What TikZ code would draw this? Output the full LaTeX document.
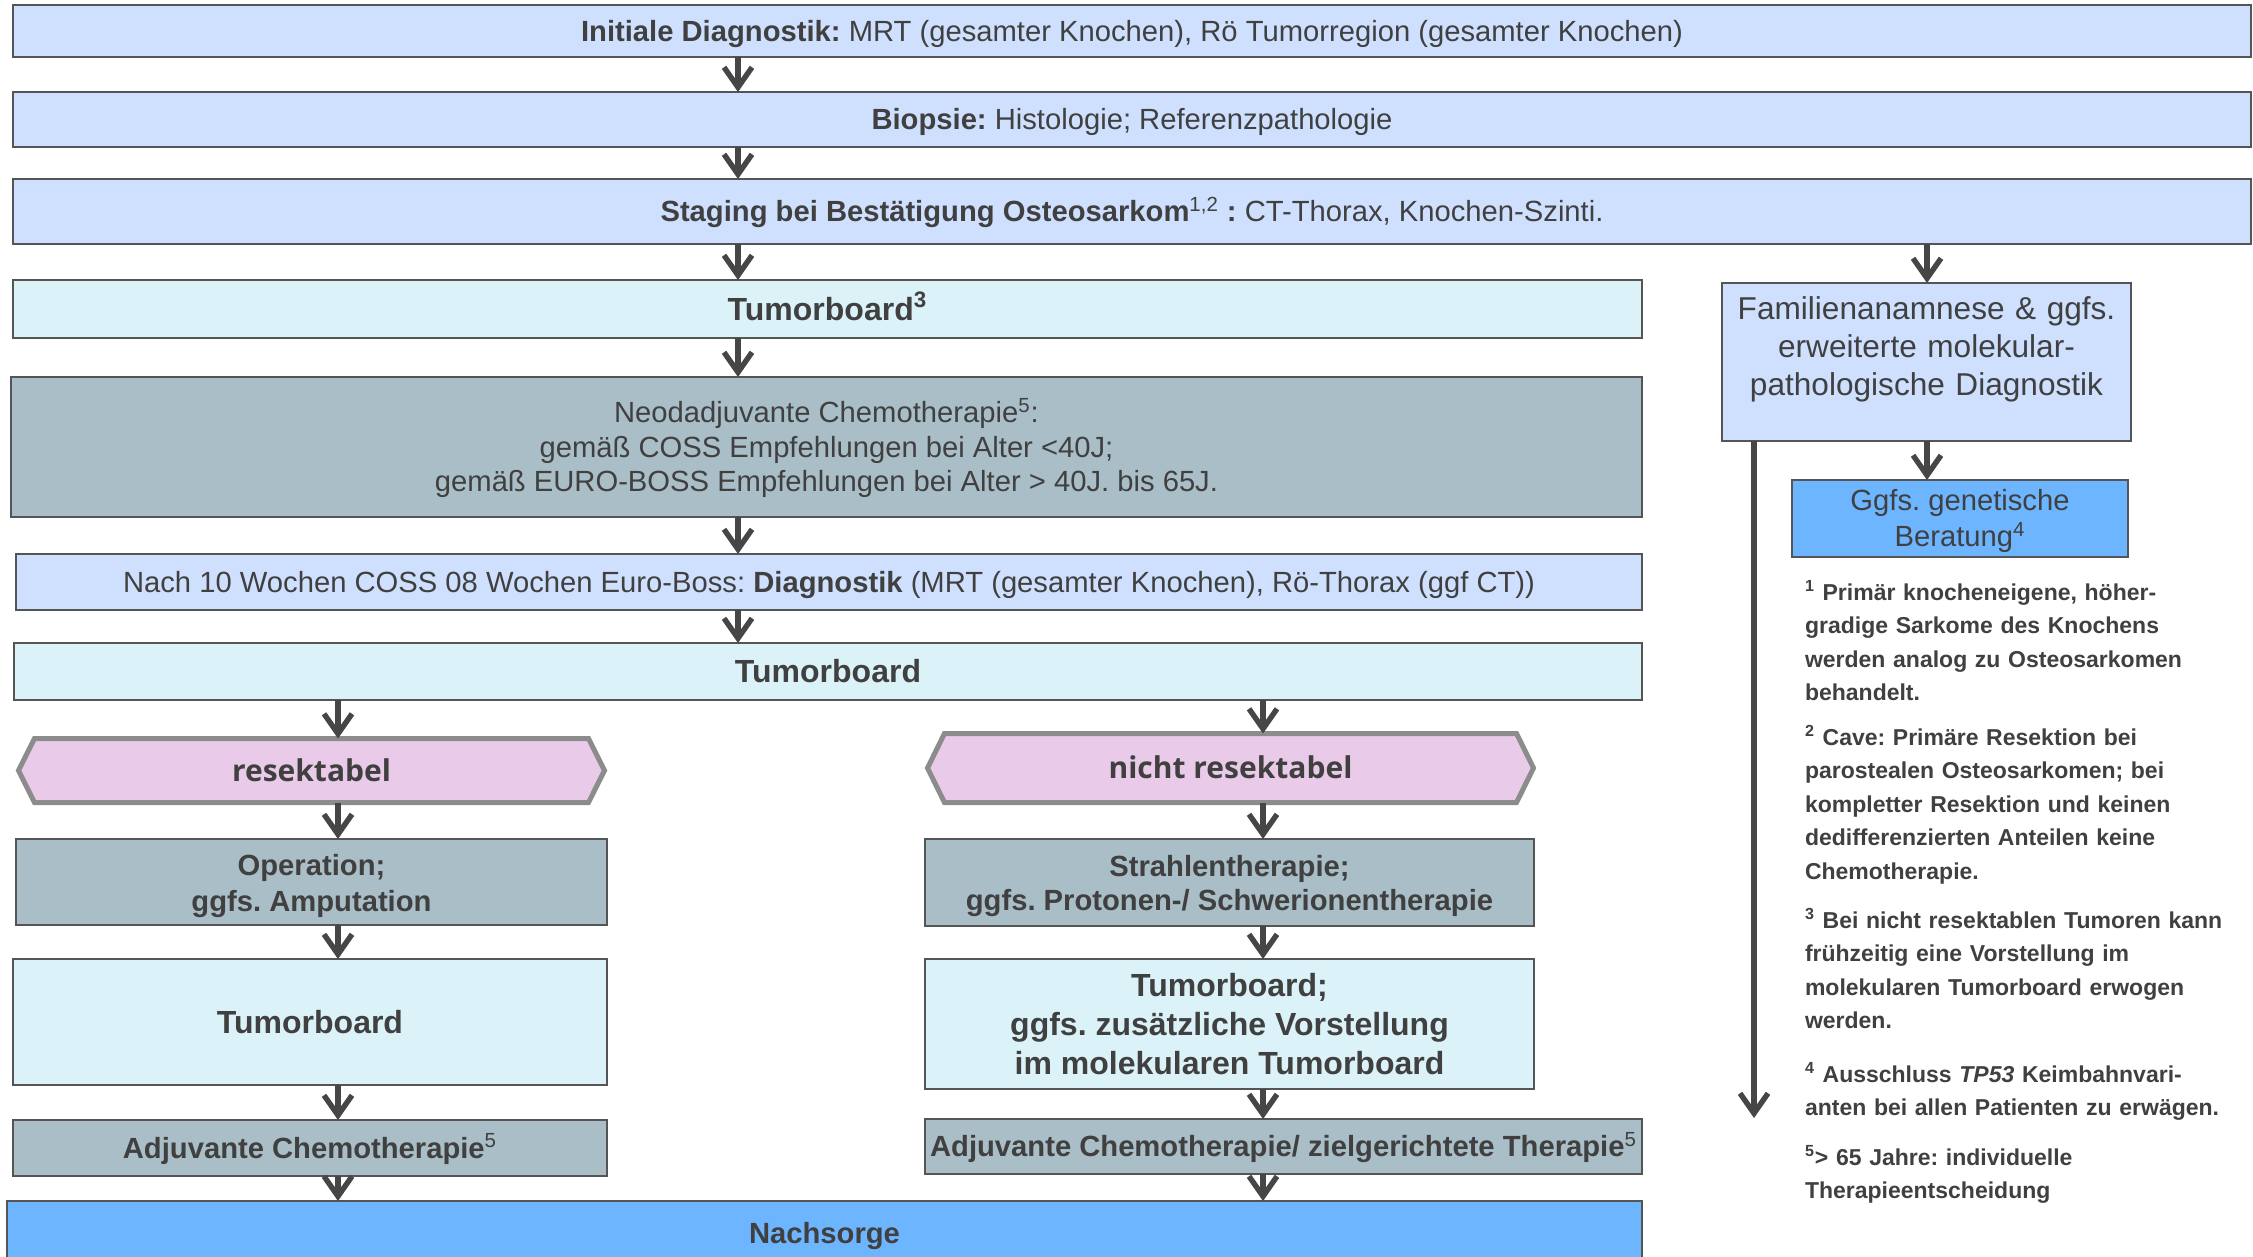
\documentclass[tikz,border=0pt]{standalone}
\usepackage{fontspec}
\setmainfont{Liberation Sans}
\newfontfamily\hexfont{Open Sans}
\usetikzlibrary{arrows.meta,shapes.symbols}

\definecolor{txt}{RGB}{64,64,64}
\definecolor{lblue}{RGB}{207,224,255}
\definecolor{lcyan}{RGB}{219,243,248}
\definecolor{gblue}{RGB}{169,190,199}
\definecolor{pinkc}{RGB}{233,202,232}
\definecolor{bblue}{RGB}{110,181,255}
\definecolor{bord}{RGB}{85,85,85}
\definecolor{hexb}{RGB}{140,140,140}
\definecolor{arrc}{RGB}{70,70,70}

\newcommand\fsmain{\fontsize{14.6pt}{17.5pt}\selectfont}
\newcommand\fsbig{\fontsize{16pt}{19.4pt}\selectfont}
\newcommand\fsfam{\fontsize{15.8pt}{18.8pt}\selectfont}
\newcommand\fsnote{\fontsize{11.5pt}{16.8pt}\selectfont}
\newcommand\fshex{\fontsize{15pt}{18pt}\selectfont}
\newcommand\mystrut{\rule[-0.21em]{0pt}{1.12em}}
\newcommand\mlines[2][2pt]{\raisebox{-#1}[\height][\depth]{\begin{tabular}{@{}c@{}}#2\end{tabular}}}
\frenchspacing

\begin{document}
\begin{tikzpicture}[x=0.5pt,y=-0.5pt,
  every node/.style={text=txt, inner sep=0pt, outer sep=0pt},
  box/.style={draw=bord, line width=1.1pt, rectangle, align=center,
     execute at begin node=\mystrut, execute at end node=\mystrut},
  hexa/.style={draw=hexb, line width=2.5pt, fill=pinkc, shape=signal,
     signal to=west and east, align=center, font=\fshex\hexfont\bfseries,
     execute at begin node=\mystrut},
  arr/.style={draw=arrc, line width=2.7pt, -{Straight Barb[length=10pt,width=14pt]}},
  note/.style={font=\fsnote\bfseries, align=left, text width=230pt, anchor=base west}]
\useasboundingbox (0,0) rectangle (2253,1257);
\clip (0,0) rectangle (2253,1257);

% column coordinates
\coordinate (cM) at (738,0);
\coordinate (cL) at (338,0);
\coordinate (cR) at (1263,0);
\coordinate (cF) at (1927,0);
\coordinate (cV) at (1754,0);
\coordinate (vEnd) at (1754,1118);

% main column
\node[box, fill=lblue, minimum width=1119pt, minimum height=26pt, font=\fsmain] (init) at (1132,31)
  {\textbf{Initiale Diagnostik:} MRT (gesamter Knochen), Rö Tumorregion (gesamter Knochen)};
\node[box, fill=lblue, minimum width=1119pt, minimum height=27.5pt, font=\fsmain] (bio) at (1132,119.5)
  {\textbf{Biopsie:} Histologie; Referenzpathologie};
\node[box, fill=lblue, minimum width=1119pt, minimum height=32.5pt, font=\fsmain] (stag) at (1132,211.5)
  {\textbf{Staging bei Bestätigung Osteosarkom\textsuperscript{\mdseries 1,2} :} CT-Thorax, Knochen-Szinti.};
\node[box, fill=lcyan, minimum width=814.5pt, minimum height=29pt, font=\fsbig\bfseries] (tb1) at (827.5,309)
  {Tumorboard\textsuperscript{3}};
\node[box, fill=gblue, minimum width=815.5pt, minimum height=70pt, font=\fontsize{14.6pt}{17.25pt}\selectfont] (neo) at (826.5,447)
  {\mlines[1.5pt]{Neodadjuvante Chemotherapie\textsuperscript{5}:\\gemäß COSS Empfehlungen bei Alter <40J;\\gemäß EURO-BOSS Empfehlungen bei Alter > 40J. bis 65J.}};
\node[box, fill=lblue, minimum width=813pt, minimum height=28pt, font=\fsmain] (nach) at (829,582)
  {Nach 10 Wochen COSS 08 Wochen Euro-Boss: \textbf{Diagnostik} (MRT (gesamter Knochen), Rö-Thorax (ggf CT))};
\node[box, fill=lcyan, minimum width=814pt, minimum height=28.5pt, font=\fsbig\bfseries] (tb2) at (828,671.5)
  {Tumorboard};

% left branch
\node[hexa, minimum width=293pt, minimum height=32pt, signal pointer angle=127] (hexL) at (311.5,770.5) {resektabel};
\node[box, fill=gblue, minimum width=295.5pt, minimum height=43pt, font=\fontsize{14.6pt}{18pt}\selectfont\bfseries] (op) at (311.5,882)
  {\mlines{Operation;\\ggfs. Amputation}};
\node[box, fill=lcyan, minimum width=297pt, minimum height=63pt, font=\fsbig\bfseries] (tbL) at (310,1022)
  {Tumorboard};
\node[box, fill=gblue, minimum width=297pt, minimum height=28pt, font=\fsmain\bfseries] (adjL) at (310,1148)
  {Adjuvante Chemotherapie\textsuperscript{\mdseries 5}};

% right branch
\node[hexa, minimum width=303pt, minimum height=34.5pt, signal pointer angle=127.6] (hexR) at (1230.5,768) {nicht resektabel};
\node[box, fill=gblue, minimum width=304.5pt, minimum height=43.5pt, font=\fontsize{14.6pt}{17.3pt}\selectfont\bfseries] (str) at (1229.5,882.5)
  {\mlines{Strahlentherapie;\\ggfs. Protonen-/ Schwerionentherapie}};
\node[box, fill=lcyan, minimum width=304.5pt, minimum height=65pt, font=\fsbig\bfseries] (tbR) at (1229.5,1024)
  {\mlines{Tumorboard;\\ggfs. zusätzliche Vorstellung\\im molekularen Tumorboard}};
\node[box, fill=gblue, minimum width=358.5pt, minimum height=27.5pt, font=\fsmain\bfseries] (adjR) at (1283.5,1146.5)
  {Adjuvante Chemotherapie/ zielgerichtete Therapie\textsuperscript{\mdseries 5}};

\node[box, fill=bblue, minimum width=817.5pt, minimum height=32pt, font=\fsmain\bfseries] (nachs) at (824.5,1233)
  {Nachsorge};

% right side
\node[draw=bord, line width=1.1pt, fill=lblue, minimum width=204.5pt, minimum height=79pt] (fam) at (1926.5,362) {};
\node[font=\fsfam, align=center, text width=200pt, anchor=base] (famtext) at (1926.5,320)
  {Familienanamnese \& ggfs.\\erweiterte molekular-\\pathologische Diagnostik};
\node[box, fill=bblue, minimum width=168pt, minimum height=38.5pt, font=\fontsize{14.6pt}{18pt}\selectfont] (gen) at (1960,518.5)
  {\mlines[1.5pt]{Ggfs. genetische\\Beratung\textsuperscript{4}}};

% footnotes
\node[note] (fn1) at (1805,600)
  {\textsuperscript{1} Primär knocheneigene, höher-\\gradige Sarkome des Knochens\\werden analog zu Osteosarkomen\\behandelt.};
\node[note] (fn2) at (1805,745)
  {\textsuperscript{2} Cave: Primäre Resektion bei\\parostealen Osteosarkomen; bei\\kompletter Resektion und keinen\\dedifferenzierten Anteilen keine\\Chemotherapie.};
\node[note] (fn3) at (1805,928)
  {\textsuperscript{3} Bei nicht resektablen Tumoren kann\\frühzeitig eine Vorstellung im\\molekularen Tumorboard erwogen\\werden.};
\node[note] (fn4) at (1805,1082)
  {\textsuperscript{4} Ausschluss \textit{TP53} Keimbahnvari-\\anten bei allen Patienten zu erwägen.};
\node[note] (fn5) at (1805,1165)
  {\textsuperscript{5}> 65 Jahre: individuelle\\Therapieentscheidung};

% connectors
\draw[arr] (init.south -| cM) -- (bio.north -| cM);
\draw[arr] (bio.south -| cM) -- (stag.north -| cM);
\draw[arr] (stag.south -| cM) -- (tb1.north -| cM);
\draw[arr] (stag.south -| cF) -- (fam.north -| cF);
\draw[arr] (tb1.south -| cM) -- (neo.north -| cM);
\draw[arr] (neo.south -| cM) -- (nach.north -| cM);
\draw[arr] (nach.south -| cM) -- (tb2.north -| cM);
\draw[arr] (tb2.south -| cL) -- (hexL.north -| cL);
\draw[arr] (tb2.south -| cR) -- (hexR.north -| cR);
\draw[arr] (hexL.south -| cL) -- (op.north -| cL);
\draw[arr] (op.south -| cL) -- (tbL.north -| cL);
\draw[arr] (tbL.south -| cL) -- (adjL.north -| cL);
\draw[arr] (adjL.south -| cL) -- (nachs.north -| cL);
\draw[arr] (hexR.south -| cR) -- (str.north -| cR);
\draw[arr] (str.south -| cR) -- (tbR.north -| cR);
\draw[arr] (tbR.south -| cR) -- (adjR.north -| cR);
\draw[arr] (adjR.south -| cR) -- (nachs.north -| cR);
\draw[arr] (fam.south -| cF) -- (gen.north -| cF);
\draw[arr] (fam.south -| cV) -- (vEnd);
\end{tikzpicture}
\end{document}
